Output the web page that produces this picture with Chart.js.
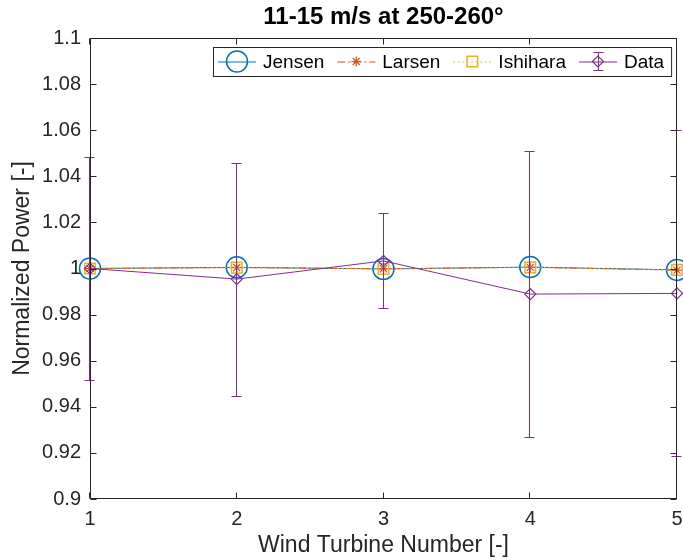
<!DOCTYPE html>
<html>
<head>
<meta charset="utf-8">
<script src="https://cdn.jsdelivr.net/npm/chart.js@4"></script>
<style>
  body { margin: 0; background: #fff; }
  canvas { display: block; }
</style>
</head>
<body>
<canvas id="chart" width="683" height="560"></canvas>
<script>
// values
const turbines = [1, 2, 3, 4, 5];
const jensen = [1.0, 1.0005, 0.9998, 1.0006, 0.9994];
const larsen = [1.0, 1.0004, 0.9999, 1.0005, 0.9993];
const ishihara = [1.0, 1.0004, 0.9998, 1.0005, 0.9994];
const measured = [1.0, 0.9954, 1.0033, 0.9889, 0.9892];
const measuredErr = [0.0484, 0.0505, 0.0206, 0.0620, 0.0707];

const seriesNames = ["Jensen", "Larsen", "Ishihara", "Data"];
const titleText = "11-15 m/s at 250-260°";
const xTitle = "Wind Turbine Number [-]";
const yTitle = "Normalized Power [-]";

const BLUE = "#0072BD", ORANGE = "#D95319", YELLOW = "#EDB120", PURPLE = "#7E2F8E";
const AXIS = "#262626";
const FONT = "'Liberation Sans', Arial, Helvetica, sans-serif";

const toXY = vals => vals.map((v, i) => ({ x: turbines[i], y: v }));

// marker + line description used for both the plot and the legend
const styles = [
  { color: BLUE, dash: [], point: "circle", r: 10.5, w: 1.5 },
  { color: ORANGE, dash: [8, 3, 2, 3], point: "star", r: 5, w: 1.2 },
  { color: YELLOW, dash: [1.5, 3], point: "rect", r: 7.5, w: 1.5 },
  { color: PURPLE, dash: [], point: "rectRot", r: 5.5, w: 1.2 },
];

const makeSet = (idx, vals, order) => ({
  label: seriesNames[idx],
  data: toXY(vals),
  borderColor: styles[idx].color,
  borderWidth: 1,
  borderDash: styles[idx].dash,
  pointStyle: styles[idx].point,
  pointRadius: styles[idx].r,
  pointBorderColor: styles[idx].color,
  pointBackgroundColor: "rgba(0,0,0,0)",
  pointBorderWidth: styles[idx].w,
  tension: 0,
  clip: false,
  order: order,
});

const errorBars = {
  id: "errorBars",
  afterDatasetsDraw(chart) {
    const { ctx, scales: { x, y } } = chart;
    ctx.save();
    ctx.strokeStyle = PURPLE;
    ctx.lineWidth = 1;
    measured.forEach((v, i) => {
      const px = Math.round(x.getPixelForValue(turbines[i])) - 0.5;
      const top = Math.round(y.getPixelForValue(v + measuredErr[i])) + 0.5;
      const bot = Math.round(y.getPixelForValue(v - measuredErr[i])) + 0.5;
      ctx.beginPath();
      ctx.moveTo(px, top); ctx.lineTo(px, bot);
      ctx.moveTo(px - 5, top); ctx.lineTo(px + 5, top);
      ctx.moveTo(px - 5, bot); ctx.lineTo(px + 5, bot);
      ctx.stroke();
    });
    ctx.restore();
  },
};

const matlabFrame = {
  id: "matlabFrame",
  afterDraw(chart) {
    const { ctx, chartArea: a, scales: { x, y } } = chart;
    ctx.save();
    ctx.strokeStyle = AXIS;
    ctx.lineWidth = 1;
    const L = a.left + 0.5, R = a.right - 0.5, T = a.top + 0.5, B = a.bottom - 0.5;
    ctx.strokeRect(L, T, R - L, B - T);
    ctx.beginPath();
    x.ticks.forEach(t => {
      const px = Math.round(x.getPixelForValue(t.value)) - 0.5;
      ctx.moveTo(px, B); ctx.lineTo(px, B - 6);
      ctx.moveTo(px, T); ctx.lineTo(px, T + 6);
    });
    y.ticks.forEach(t => {
      const py = Math.round(y.getPixelForValue(t.value)) + 0.5;
      ctx.moveTo(L, py); ctx.lineTo(L + 6, py);
      ctx.moveTo(R, py); ctx.lineTo(R - 6, py);
    });
    ctx.stroke();

    // titles
    ctx.fillStyle = "#000";
    ctx.textAlign = "center";
    ctx.textBaseline = "middle";
    ctx.font = "bold 24px " + FONT;
    ctx.fillText(titleText, (a.left + a.right) / 2, 17);
    ctx.fillStyle = AXIS;
    ctx.font = "23px " + FONT;
    ctx.fillText(xTitle, (a.left + a.right) / 2, 546);
    ctx.save();
    ctx.translate(23, (a.top + a.bottom) / 2);
    ctx.rotate(-Math.PI / 2);
    ctx.fillText(yTitle, 0, 0);
    ctx.restore();

    // legend box
    ctx.font = "19px " + FONT;
    const boxL = 213, boxT = 47, boxH = 29, cy = boxT + boxH / 2;
    let x0 = boxL + 5;
    const items = [];
    seriesNames.forEach((name, i) => {
      const tx = x0 + 45;
      items.push({ i, x0, tx, name });
      x0 = tx + ctx.measureText(name).width + 13;
    });
    const boxR = x0 - 6;
    ctx.fillStyle = "#fff";
    ctx.fillRect(boxL, boxT, boxR - boxL, boxH);
    ctx.strokeStyle = AXIS;
    ctx.strokeRect(boxL + 0.5, boxT + 0.5, boxR - boxL, boxH);
    items.forEach(it => {
      const s = styles[it.i];
      ctx.strokeStyle = s.color;
      ctx.lineWidth = 1;
      ctx.setLineDash(s.dash);
      ctx.beginPath();
      ctx.moveTo(it.x0, cy + 0.5); ctx.lineTo(it.x0 + 38, cy + 0.5);
      ctx.stroke();
      ctx.setLineDash([]);
      const mx = it.x0 + 19;
      if (it.i === 3) {
        ctx.beginPath();
        ctx.moveTo(mx + 0.5, cy - 9); ctx.lineTo(mx + 0.5, cy + 9);
        ctx.moveTo(mx - 4.5, cy - 9); ctx.lineTo(mx + 5.5, cy - 9);
        ctx.moveTo(mx - 4.5, cy + 9); ctx.lineTo(mx + 5.5, cy + 9);
        ctx.stroke();
      }
      ctx.lineWidth = s.w;
      ctx.fillStyle = "rgba(0,0,0,0)";
      Chart.helpers.drawPoint(ctx, { pointStyle: s.point, radius: s.r, rotation: 0, borderWidth: s.w }, mx, cy);
      ctx.fillStyle = "#000";
      ctx.textAlign = "left";
      ctx.fillText(it.name, it.tx, cy + 1);
    });
    ctx.restore();
  },
};

// invisible tick lines only push the labels away from the axis
const hiddenGrid = len => ({
  display: true,
  drawOnChartArea: false,
  drawTicks: true,
  tickLength: len,
  color: "rgba(0,0,0,0)",
});

new Chart(document.getElementById("chart").getContext("2d"), {
  type: "line",
  data: {
    datasets: [
      makeSet(3, measured, 0),
      makeSet(2, ishihara, 1),
      makeSet(1, larsen, 2),
      makeSet(0, jensen, 3),
    ],
  },
  options: {
    responsive: false,
    animation: false,
    devicePixelRatio: 1,
    layout: { autoPadding: false, padding: { top: 38, right: 6, left: 0, bottom: 0 } },
    scales: {
      x: {
        type: "linear",
        min: 1,
        max: 5,
        grid: hiddenGrid(8),
        border: { display: false },
        ticks: { stepSize: 1, padding: 0, color: AXIS, font: { family: FONT, size: 20 } },
        afterFit: s => { s.height = 61; },
      },
      y: {
        min: 0.9,
        max: 1.1,
        grid: hiddenGrid(9),
        border: { display: false },
        ticks: {
          stepSize: 0.02,
          padding: 0,
          color: AXIS,
          font: { family: FONT, size: 20 },
          callback: v => String(parseFloat(v.toFixed(2))),
        },
        afterFit: s => { s.width = 90; },
      },
    },
    plugins: {
      legend: { display: false },
      tooltip: { enabled: false },
    },
  },
  plugins: [errorBars, matlabFrame],
});
</script>
</body>
</html>
